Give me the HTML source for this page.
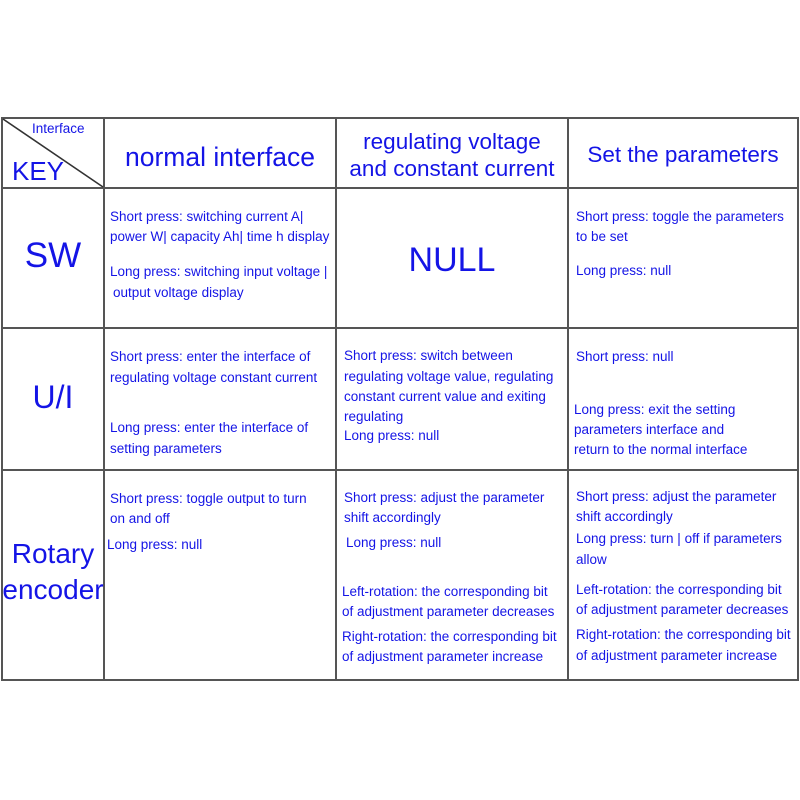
<!DOCTYPE html>
<html><head><style>
body{margin:0;width:800px;height:800px;background:#fff;position:relative;overflow:hidden;font-family:"Liberation Sans",Arial,sans-serif;color:#1414e6}
.t{position:absolute;white-space:nowrap;line-height:1}
.s{font-size:13.5px}
.c{text-align:center}
.h{position:absolute;background:#555}
</style></head><body>
<div class="h" style="left:1px;top:117px;width:798px;height:2px"></div>
<div class="h" style="left:1px;top:187px;width:798px;height:2px"></div>
<div class="h" style="left:1px;top:327px;width:798px;height:2px"></div>
<div class="h" style="left:1px;top:469px;width:798px;height:2px"></div>
<div class="h" style="left:1px;top:679px;width:798px;height:2px"></div>
<div class="h" style="left:1px;top:117px;width:2px;height:564px"></div>
<div class="h" style="left:103px;top:117px;width:2px;height:564px"></div>
<div class="h" style="left:335px;top:117px;width:2px;height:564px"></div>
<div class="h" style="left:567px;top:117px;width:2px;height:564px"></div>
<div class="h" style="left:797px;top:117px;width:2px;height:564px"></div>
<svg style="position:absolute;left:0;top:0" width="800" height="800"><line x1="3" y1="119" x2="103" y2="187" stroke="#333" stroke-width="1.6"/></svg>
<div class="t" style="left:32px;top:122px;font-size:13.5px">Interface</div>
<div class="t" style="left:12px;top:158px;font-size:26px">KEY</div>
<div class="t c" style="left:105px;width:230px;top:144px;font-size:26.5px">normal interface</div>
<div class="t c" style="left:337px;width:230px;top:131px;font-size:22.5px">regulating voltage</div>
<div class="t c" style="left:337px;width:230px;top:158px;font-size:22.5px">and constant current</div>
<div class="t c" style="left:569px;width:228px;top:144px;font-size:22.5px">Set the parameters</div>
<div class="t c" style="left:3px;width:100px;top:238px;font-size:35px">SW</div>
<div class="t s" style="left:110px;top:210px">Short press: switching current A|</div>
<div class="t s" style="left:110px;top:230px">power W| capacity Ah| time h display</div>
<div class="t s" style="left:110px;top:265px">Long press: switching input voltage |</div>
<div class="t s" style="left:113px;top:286px">output voltage display</div>
<div class="t c" style="left:337px;width:230px;top:243px;font-size:34px">NULL</div>
<div class="t s" style="left:576px;top:210px">Short press: toggle the parameters</div>
<div class="t s" style="left:576px;top:230px">to be set</div>
<div class="t s" style="left:576px;top:264px">Long press: null</div>
<div class="t c" style="left:3px;width:100px;top:381px;font-size:32px">U/I</div>
<div class="t s" style="left:110px;top:350px">Short press: enter the interface of</div>
<div class="t s" style="left:110px;top:371px">regulating voltage constant current</div>
<div class="t s" style="left:110px;top:421px">Long press: enter the interface of</div>
<div class="t s" style="left:110px;top:442px">setting parameters</div>
<div class="t s" style="left:344px;top:349px">Short press: switch between</div>
<div class="t s" style="left:344px;top:370px">regulating voltage value, regulating</div>
<div class="t s" style="left:344px;top:390px">constant current value and exiting</div>
<div class="t s" style="left:344px;top:410px">regulating</div>
<div class="t s" style="left:344px;top:429px">Long press: null</div>
<div class="t s" style="left:576px;top:350px">Short press: null</div>
<div class="t s" style="left:574px;top:403px">Long press: exit the setting</div>
<div class="t s" style="left:574px;top:423px">parameters interface and</div>
<div class="t s" style="left:574px;top:443px">return to the normal interface</div>
<div class="t c" style="left:1px;width:104px;top:540px;font-size:28px">Rotary</div>
<div class="t c" style="left:1px;width:104px;top:576px;font-size:28px">encoder</div>
<div class="t s" style="left:110px;top:492px">Short press: toggle output to turn</div>
<div class="t s" style="left:110px;top:512px">on and off</div>
<div class="t s" style="left:107px;top:538px">Long press: null</div>
<div class="t s" style="left:344px;top:491px">Short press: adjust the parameter</div>
<div class="t s" style="left:344px;top:511px">shift accordingly</div>
<div class="t s" style="left:346px;top:536px">Long press: null</div>
<div class="t s" style="left:342px;top:585px">Left-rotation: the corresponding bit</div>
<div class="t s" style="left:342px;top:605px">of adjustment parameter decreases</div>
<div class="t s" style="left:342px;top:630px">Right-rotation: the corresponding bit</div>
<div class="t s" style="left:342px;top:650px">of adjustment parameter increase</div>
<div class="t s" style="left:576px;top:490px">Short press: adjust the parameter</div>
<div class="t s" style="left:576px;top:510px">shift accordingly</div>
<div class="t s" style="left:576px;top:532px">Long press: turn | off if parameters</div>
<div class="t s" style="left:576px;top:553px">allow</div>
<div class="t s" style="left:576px;top:583px">Left-rotation: the corresponding bit</div>
<div class="t s" style="left:576px;top:603px">of adjustment parameter decreases</div>
<div class="t s" style="left:576px;top:628px">Right-rotation: the corresponding bit</div>
<div class="t s" style="left:576px;top:649px">of adjustment parameter increase</div>
</body></html>
